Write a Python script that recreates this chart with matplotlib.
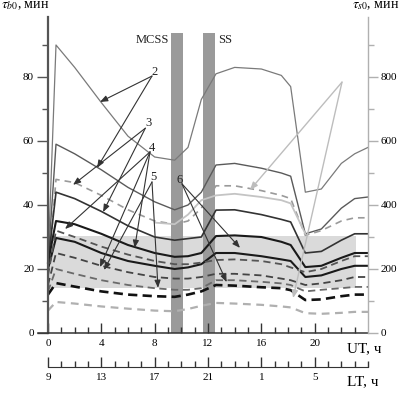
import matplotlib
matplotlib.use('Agg')
import matplotlib.pyplot as plt
import numpy as np

plt.rcParams['font.family'] = ['Liberation Serif', 'DejaVu Serif']
plt.rcParams['mathtext.fontset'] = 'stix'

nan = np.nan

# UT hours for the curve knots
ut = [0, 0.6, 2, 4, 6, 8, 9.5, 10.5, 11.5, 12.6, 14, 16, 17.5, 18.2, 19.3, 20.5, 22, 23, 24]

# curve values, minutes (left axis units)
tau_2 = [22, 90, 83, 72, 61.5, 55, 54, 58, 73, 81, 83, 82.5, 80.5, 77, 44, 45, 53, 56, 58]
s1 = [22, 59, 56, 51, 45.5, 41, 38.5, 40, 44, 52.5, 53, 51.5, 50, 49, 31, 32.5, 39, 42, 42.5]
d1 = [18, 48, 47, 43, 38.5, 35, 34, 35, 39, 46, 46, 44.5, 43, 42, 30.5, 32, 35, 36, 36]
light = [nan, nan, nan, nan, nan, 34.5, 34, 37, 41.5, 43, 43.5, 42.5, 41.5, 40.5, 31, nan, nan, nan, nan]
s2 = [22, 44, 42, 38, 33.5, 30, 29, 29.5, 30, 38.4, 38.5, 37, 35.5, 34.7, 25, 25.5, 29, 31, 31]
s3 = [22, 35, 34, 31, 27.5, 25, 23.8, 24, 25, 30.3, 30.5, 30, 28.5, 27.5, 20.6, 21, 23.5, 25, 25]
s4 = [20, 29.7, 28.5, 25, 22.5, 21, 20, 20.5, 21.5, 25, 25, 24, 23, 22.5, 17.5, 18, 20, 21, 21]
da = [18, 32, 30, 27, 24.5, 22.5, 21.5, 21.5, 22, 22.8, 23, 22.5, 21.5, 20.5, 19, 20, 22.5, 24, 24]
db = [15, 25, 23.5, 21, 19, 17.5, 17, 17, 17.5, 18.5, 18.5, 18, 17, 16.5, 15, 15.5, 16.5, 17.5, 17.5]
dd = [13, 20, 18.5, 16.5, 15, 14, 13.5, 13.5, 14, 16.5, 16.5, 16, 15.5, 15, 13, 13.5, 14, 14.4, 14.4]
dc = [12, 15.6, 14.5, 13, 12, 11.5, 11.3, 12, 13, 15, 14.8, 14.3, 14, 13.4, 10.3, 10.5, 11.5, 12, 12]
dl = [7, 9.7, 9.2, 8.3, 7.6, 7, 6.8, 7.5, 8.5, 9.4, 9.2, 8.8, 8.3, 8, 6.2, 6, 6.3, 6.6, 6.6]

# label positions (UT, minutes) and arrow tips
labels = ['2', '3', '4', '5', '6']
label_pos = [(8.0, 81.6), (7.5, 65.6), (7.8, 57.8), (7.9, 48.7), (9.9, 47.8)]
arrow_start = [(7.8, 80.3), (7.3, 64.0), (7.65, 56.6), (7.8, 47.2), (10.05, 46.6)]
arrow_tips = [[(3.9, 72.2), (3.68, 51.6)],
              [(1.88, 46.3), (4.13, 37.8)],
              [(1.28, 32.5), (6.5, 26.6), (3.9, 20.6)],
              [(8.25, 14.1), (4.2, 19.7)],
              [(14.4, 26.6), (13.4, 15.9)]]
leader_start = (22.05, 78.4)
leader_tips = [(15.15, 44.7), (18.38, 10.9)]

ut_ticks = [0, 4, 8, 12, 16, 20]
lt_labels = ['9', '13', '17', '21', '1', '5']

fig = plt.figure(figsize=(4.12, 3.93), dpi=100)
ax = fig.add_axes([38 / 412, 60 / 393, 330 / 412, 316 / 393])
ax.set_xlim(-0.75, 24)
ax.set_ylim(0, 98.75)

# shaded band and MCSS / SS strips
ax.fill_between([0, 23.1], 14, 30.3, color='#dadada', lw=0, zorder=0.5)
ax.axvspan(9.25, 10.15, ymax=93.75 / 98.75, color='#9a9a9a', lw=0, zorder=1)
ax.axvspan(11.65, 12.55, ymax=93.75 / 98.75, color='#9a9a9a', lw=0, zorder=1)
ax.text(9.1, 91.5, 'MCSS', ha='right', va='center', fontsize=9, color='#222')
ax.text(12.75, 91.5, 'SS', ha='left', va='center', fontsize=9, color='#222')

# curves
ax.plot(ut, tau_2, color='#7a7a7a', lw=0.9, zorder=2)
ax.plot(ut, s1, color='#5a5a5a', lw=1.0, zorder=2)
ax.plot(ut, d1, color='#9a9a9a', lw=1.2, dashes=(4, 3), zorder=2)
ax.plot(ut, light, color='#c4c4c4', lw=1.3, zorder=2)
ax.plot(ut, s2, color='#333333', lw=1.2, zorder=2)
ax.plot(ut, s3, color='#1a1a1a', lw=1.5, zorder=2)
ax.plot(ut, s4, color='#1a1a1a', lw=1.5, zorder=2)
ax.plot(ut, da, color='#555555', lw=1.3, dashes=(4, 2.5), zorder=2)
ax.plot(ut, db, color='#444444', lw=1.3, dashes=(4, 2.5), zorder=2)
ax.plot(ut, dd, color='#6a6a6a', lw=1.3, dashes=(4, 2.5), zorder=2)
ax.plot(ut, dc, color='#111111', lw=1.9, dashes=(3.5, 2), zorder=2)
ax.plot(ut, dl, color='#b0b0b0', lw=1.6, dashes=(3.5, 2.5), zorder=2)

# numbered labels with arrows
for lab, pos, st, tips in zip(labels, label_pos, arrow_start, arrow_tips):
    ax.text(pos[0], pos[1], lab, fontsize=9, ha='center', va='center', color='#222')
    for tip in tips:
        ax.annotate('', xy=tip, xytext=st,
                    arrowprops=dict(arrowstyle='-|>,head_length=0.45,head_width=0.18',
                                    color='#333', lw=0.8, shrinkA=0, shrinkB=0),
                    zorder=3)
for tip in leader_tips:
    ax.annotate('', xy=tip, xytext=leader_start,
                arrowprops=dict(arrowstyle='-|>,head_length=0.45,head_width=0.18',
                                color='#bdbdbd', lw=1.0, shrinkA=0, shrinkB=0),
                zorder=3)

# spines
ax.spines['top'].set_visible(False)
ax.spines['right'].set_visible(False)
ax.spines['left'].set_position(('data', 0))
ax.spines['left'].set_color('#555')
ax.spines['left'].set_linewidth(1.6)
ax.spines['bottom'].set_color('#333')
ax.spines['bottom'].set_linewidth(1.1)

ax.set_yticks([0, 20, 40, 60, 80])
ax.set_yticks([10, 30, 50, 70, 90], minor=True)
ax.tick_params(axis='y', which='major', direction='out', length=8, width=1,
               pad=2, labelsize=8, color='#555')
ax.tick_params(axis='y', which='minor', direction='out', length=4.5, width=1, color='#555')

ax.set_xticks(ut_ticks)
ax.set_xticks(range(0, 24), minor=True)
ax.tick_params(axis='x', which='major', direction='in', length=7, width=1,
               pad=4, labelsize=8, color='#333')
ax.tick_params(axis='x', which='minor', direction='in', length=4, width=1, color='#333')

# right axis, tau_s0
ax2 = ax.twinx()
ax2.set_ylim(0, 987.5)
for side in ['left', 'top', 'bottom']:
    ax2.spines[side].set_visible(False)
ax2.spines['right'].set_color('#b0b0b0')
ax2.spines['right'].set_linewidth(1.0)
ax2.set_yticks([0, 200, 400, 600, 800])
ax2.set_yticks([100, 300, 500, 700, 900], minor=True)
ax2.tick_params(axis='y', which='major', direction='out', length=7, width=1,
                pad=2, labelsize=8, color='#b0b0b0')
ax2.tick_params(axis='y', which='minor', direction='out', length=4, width=1, color='#b0b0b0')

# LT axis
sec = ax.secondary_xaxis(-34 / 316, functions=(lambda x: x, lambda x: x))
sec.spines['bottom'].set_bounds(0, 24)
sec.spines['bottom'].set_color('#333')
sec.set_xticks(ut_ticks, labels=lt_labels)
sec.set_xticks(range(0, 25), minor=True)
sec.tick_params(axis='x', which='major', direction='in', length=7, width=1,
                pad=4, labelsize=8, color='#333')
sec.tick_params(axis='x', which='minor', direction='in', length=4, width=1, color='#333')

fig.text(347 / 412, 1 - 349 / 393, 'UT, ч', fontsize=11, va='center', ha='left')
fig.text(347 / 412, 1 - 382 / 393, 'LT, ч', fontsize=11, va='center', ha='left')
fig.text(0.002, 1 - 5 / 393, r'$\tau_{b0}$, мин', fontsize=10, va='center', ha='left')
fig.text(352 / 412, 1 - 5 / 393, r'$\tau_{s0}$, мин', fontsize=10, va='center', ha='left')

fig.savefig('out.png', dpi=100)
